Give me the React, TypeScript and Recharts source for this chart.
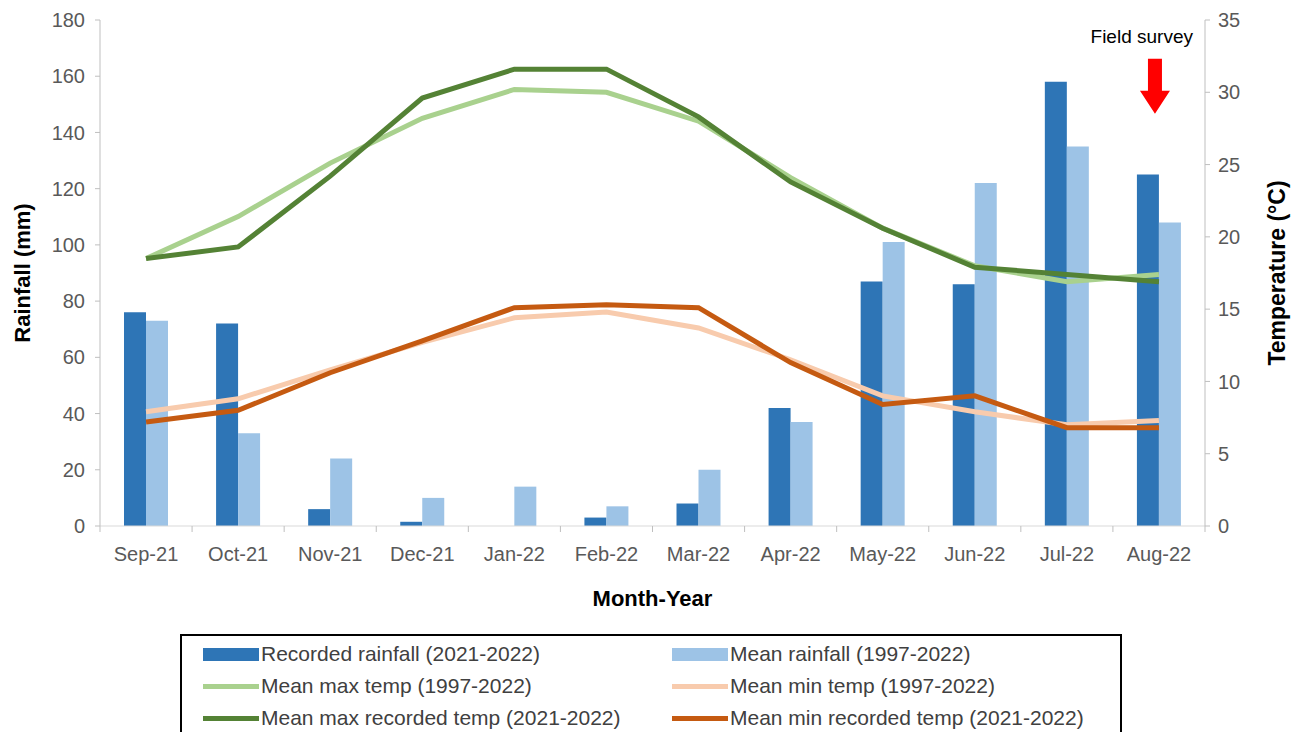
import React from 'react'
import { ComposedChart, Bar, Line, XAxis, YAxis, ReferenceDot, Label } from 'recharts'

const months = ['Sep-21', 'Oct-21', 'Nov-21', 'Dec-21', 'Jan-22', 'Feb-22', 'Mar-22', 'Apr-22', 'May-22', 'Jun-22', 'Jul-22', 'Aug-22']
const recordedRain = [76, 72, 6, 1.5, 0, 3, 8, 42, 87, 86, 158, 125]
const meanRain = [73, 33, 24, 10, 14, 7, 20, 37, 101, 122, 135, 108]
const meanMax = [18.5, 21.4, 25.1, 28.2, 30.2, 30.0, 28.0, 24.1, 20.6, 18.0, 16.9, 17.4]
const recordedMax = [18.5, 19.3, 24.2, 29.6, 31.6, 31.6, 28.3, 23.8, 20.6, 17.9, 17.4, 16.9]
const meanMin = [7.9, 8.8, 10.8, 12.7, 14.4, 14.8, 13.7, 11.5, 9.0, 7.9, 7.0, 7.3]
const recordedMin = [7.2, 8.0, 10.6, 12.8, 15.1, 15.3, 15.1, 11.3, 8.4, 9.0, 6.8, 6.8]
const rainTicks = [0, 20, 40, 60, 80, 100, 120, 140, 160, 180]
const tempTicks = [0, 5, 10, 15, 20, 25, 30, 35]

const data = months.map((m, i) => ({
  month: m,
  recordedRain: recordedRain[i],
  meanRain: meanRain[i],
  meanMax: meanMax[i],
  recordedMax: recordedMax[i],
  meanMin: meanMin[i],
  recordedMin: recordedMin[i],
}))

const COLORS = {
  recordedRain: '#2E75B6',
  meanRain: '#9DC3E6',
  meanMax: '#A9D18E',
  meanMin: '#F8CBAD',
  recordedMax: '#548235',
  recordedMin: '#C55A11',
}

const FONT = '"Liberation Sans", Arial, sans-serif'
const TICK_COLOR = '#595959'
const AXIS_COLOR = '#BFBFBF'

const W = 1303
const H = 620
const LEFT_W = 100
const RIGHT_W = 98
const BAND = (W - LEFT_W - RIGHT_W) / months.length

const legendItems = [
  { key: 'recordedRain', label: 'Recorded rainfall (2021-2022)', type: 'bar' },
  { key: 'meanRain', label: 'Mean rainfall (1997-2022)', type: 'bar' },
  { key: 'meanMax', label: 'Mean max temp (1997-2022)', type: 'line' },
  { key: 'meanMin', label: 'Mean min temp (1997-2022)', type: 'line' },
  { key: 'recordedMax', label: 'Mean max recorded temp (2021-2022)', type: 'line' },
  { key: 'recordedMin', label: 'Mean min recorded temp (2021-2022)', type: 'line' },
]

function MonthTick(props: any) {
  const { x, y, payload } = props
  const axisY = y - 21
  return (
    <g>
      <line x1={x - BAND / 2} x2={x - BAND / 2} y1={axisY} y2={axisY + 6} stroke={AXIS_COLOR} />
      {payload.index === months.length - 1 && (
        <line x1={x + BAND / 2} x2={x + BAND / 2} y1={axisY} y2={axisY + 6} stroke={AXIS_COLOR} />
      )}
      <text x={x} y={y} dy="0.71em" textAnchor="middle" fill={TICK_COLOR} fontSize={20} fontFamily={FONT}>
        {payload.value}
      </text>
    </g>
  )
}

// red arrow + caption above the last month
function SurveyMarker(props: any) {
  const { cx, cy } = props
  if (cx == null || cy == null) return null
  const top = cy + 5
  const ax = cx - 4
  return (
    <g>
      <text x={cx + 34} y={cy - 11} textAnchor="end" fontSize={19} fontFamily={FONT} fill="#000">
        Field survey
      </text>
      <polygon
        points={`${ax - 7},${top} ${ax + 7},${top} ${ax + 7},${top + 32} ${ax + 15},${top + 32} ${ax},${top + 55} ${ax - 15},${top + 32} ${ax - 7},${top + 32}`}
        fill="#FF0000"
      />
    </g>
  )
}

function ChartLegend() {
  return (
    <div
      style={{
        position: 'absolute',
        left: 180,
        top: 634,
        width: 942,
        height: 120,
        border: '2px solid #000',
        boxSizing: 'border-box',
        fontFamily: FONT,
        fontSize: 21,
        color: '#404040',
      }}
    >
      {legendItems.map((item, i) => {
        const col = i % 2
        const row = Math.floor(i / 2)
        return (
          <div
            key={item.key}
            style={{
              position: 'absolute',
              left: col === 0 ? 21 : 490,
              top: 6 + row * 32,
              display: 'flex',
              alignItems: 'center',
              whiteSpace: 'nowrap',
            }}
          >
            <span
              style={{
                display: 'inline-block',
                width: 56,
                height: item.type === 'bar' ? 13 : 5,
                background: COLORS[item.key as keyof typeof COLORS],
                marginRight: 2,
              }}
            />
            {item.label}
          </div>
        )
      })}
    </div>
  )
}

export default function App() {
  return (
    <div style={{ position: 'relative', width: W, height: 732, background: '#fff', overflow: 'hidden' }}>
      <style>{`body{margin:0}`}</style>
      <ComposedChart
        width={W}
        height={H}
        data={data}
        margin={{ top: 20, right: 0, bottom: 0, left: 0 }}
        barGap={0}
      >
        <XAxis
          dataKey="month"
          height={94}
          axisLine={{ stroke: '#D9D9D9' }}
          tickLine={false}
          tickSize={6}
          tickMargin={15}
          tick={<MonthTick />}
          interval={0}
        >
          <Label value="Month-Year" position="insideBottom" offset={14} fill="#000" fontSize={22} fontWeight="bold" fontFamily={FONT} />
        </XAxis>
        <YAxis
          yAxisId="left"
          domain={[0, 180]}
          ticks={rainTicks}
          width={LEFT_W}
          axisLine={{ stroke: AXIS_COLOR }}
          tickLine={{ stroke: AXIS_COLOR }}
          tickSize={5}
          tickMargin={10}
          tick={{ fill: TICK_COLOR, fontSize: 20, fontFamily: FONT }}
        >
          <Label value="Rainfall (mm)" angle={-90} position="insideLeft" offset={22} style={{ textAnchor: 'middle' }} fill="#000" fontSize={22} fontWeight="bold" fontFamily={FONT} />
        </YAxis>
        <YAxis
          yAxisId="right"
          orientation="right"
          domain={[0, 35]}
          ticks={tempTicks}
          width={RIGHT_W}
          axisLine={{ stroke: AXIS_COLOR }}
          tickLine={{ stroke: AXIS_COLOR }}
          tickSize={5}
          tickMargin={8}
          tick={{ fill: TICK_COLOR, fontSize: 20, fontFamily: FONT }}
        >
          <Label value="Temperature (°C)" angle={-90} position="insideRight" offset={26} style={{ textAnchor: 'middle' }} fill="#000" fontSize={23} fontWeight="bold" fontFamily={FONT} />
        </YAxis>
        <Bar yAxisId="left" dataKey="recordedRain" barSize={22} fill={COLORS.recordedRain} isAnimationActive={false} />
        <Bar yAxisId="left" dataKey="meanRain" barSize={22} fill={COLORS.meanRain} isAnimationActive={false} />
        <Line yAxisId="right" dataKey="meanMax" stroke={COLORS.meanMax} strokeWidth={5} dot={false} isAnimationActive={false} />
        <Line yAxisId="right" dataKey="meanMin" stroke={COLORS.meanMin} strokeWidth={5} dot={false} isAnimationActive={false} />
        <Line yAxisId="right" dataKey="recordedMax" stroke={COLORS.recordedMax} strokeWidth={5} dot={false} isAnimationActive={false} />
        <Line yAxisId="right" dataKey="recordedMin" stroke={COLORS.recordedMin} strokeWidth={5} dot={false} isAnimationActive={false} />
        <ReferenceDot yAxisId="left" x="Aug-22" y={168} ifOverflow="visible" shape={<SurveyMarker />} />
      </ComposedChart>
      <ChartLegend />
    </div>
  )
}
